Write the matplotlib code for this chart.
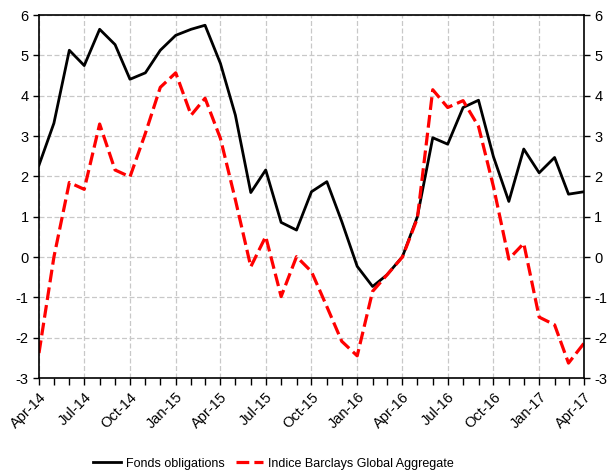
import numpy as np
import pandas as pd
import matplotlib
matplotlib.use('Agg')
import matplotlib.pyplot as plt
import matplotlib.dates as mdates

plt.rcParams['font.family'] = ['Liberation Sans', 'DejaVu Sans']
plt.rcParams['axes.unicode_minus'] = False

# Monthly data, Apr-14 to Apr-17
dates = pd.date_range('2014-04-01', '2017-04-01', freq='MS')

fonds = [2.28, 3.32, 5.13, 4.75, 5.65, 5.27, 4.41, 4.57, 5.13, 5.50, 5.65, 5.75,
         4.80, 3.52, 1.60, 2.16, 0.86, 0.67, 1.62, 1.87, 0.88, -0.23, -0.73, -0.44,
         0.01, 1.00, 2.96, 2.80, 3.71, 3.89, 2.49, 1.38, 2.68, 2.09, 2.47, 1.56, 1.62]

barclays = [-2.38, 0.00, 1.85, 1.68, 3.30, 2.16, 1.99, 3.07, 4.21, 4.57, 3.52, 3.94,
            2.94, 1.42, -0.24, 0.51, -0.98, 0.01, -0.36, -1.23, -2.09, -2.45, -0.85, -0.44,
            0.00, 0.96, 4.15, 3.71, 3.88, 3.24, 1.75, -0.05, 0.34, -1.49, -1.68, -2.63, -2.14]

yticks = list(range(-3, 7))

fig = plt.figure(figsize=(6.14, 4.74), dpi=100)
ax = fig.add_axes([0.0635, 0.2025, 0.8875, 0.7655])

ax.plot(dates, fonds, color='black', linewidth=2.0, label='Fonds obligations')
ax.plot(dates, barclays, color='#ff0000', linewidth=2.3, dashes=(4, 1.6),
        label='Indice Barclays Global Aggregate')

ax.set_xlim(dates[0], dates[-1])
ax.set_ylim(-3, 6)
ax.set_yticks(yticks)

# quarterly labels, monthly minor ticks
quarters = dates[::3]
ax.set_xticks(quarters)
ax.set_xticklabels([d.strftime('%b-%y') for d in quarters], rotation=45,
                   ha='right', rotation_mode='anchor', fontsize=10.5)
ax.xaxis.set_minor_locator(mdates.MonthLocator())
ax.tick_params(axis='x', which='both', direction='out', length=5, width=1,
               bottom=True, top=False)
ax.tick_params(axis='y', direction='out', length=4, width=1, labelsize=10.5,
               left=True, right=True, labelleft=True, labelright=True)

ax.grid(True, which='major', color='#c8c8c8', linestyle=(0, (4, 2)), linewidth=0.9)
for s in ax.spines.values():
    s.set_linewidth(1.2)

fig.legend(loc='lower center', bbox_to_anchor=(0.446, -0.015), ncol=2, frameon=False,
           fontsize=9, handlelength=2.2, handletextpad=0.4, columnspacing=0.9)

plt.savefig('out.png', dpi=100)
